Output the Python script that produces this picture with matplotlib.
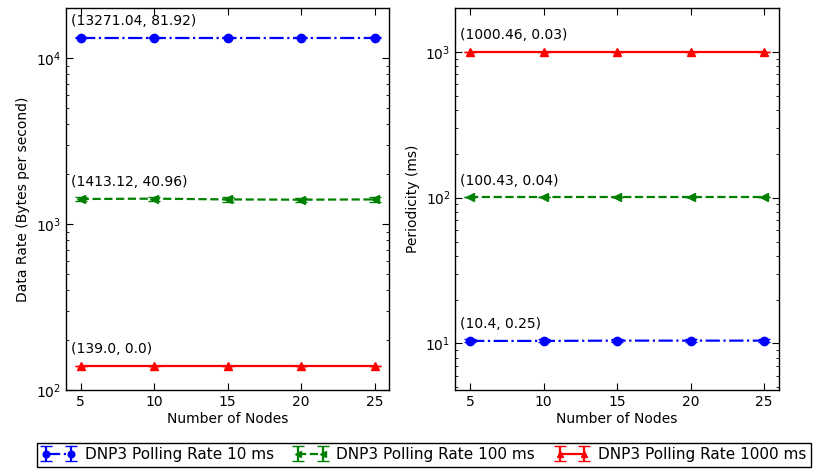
import matplotlib
matplotlib.use("Agg")
import matplotlib.pyplot as plt

plt.rcParams.update({
    "font.family": "DejaVu Sans",
    "font.size": 10,
    "xtick.direction": "in",
    "ytick.direction": "in",
    "xtick.top": True,
    "ytick.right": True,
    "xtick.major.size": 5,
    "ytick.major.size": 5,
    "ytick.minor.size": 2.5,
    "axes.linewidth": 1.0,
})

nodes = [5, 10, 15, 20, 25]
labels = ["DNP3 Polling Rate 10 ms", "DNP3 Polling Rate 100 ms",
          "DNP3 Polling Rate 1000 ms"]

# data rate (bytes per second): mean and std per node count
rate_10 = [13271.04, 13271.04, 13271.04, 13271.04, 13271.04]
rate_10_std = [81.92, 81.92, 81.92, 81.92, 81.92]
rate_100 = [1413.12, 1420.0, 1405.0, 1400.0, 1405.0]
rate_100_std = [40.96, 40.96, 40.96, 40.96, 40.96]
rate_1000 = [139.0, 139.0, 139.0, 139.0, 139.0]
rate_1000_std = [0.0, 0.0, 0.0, 0.0, 0.0]

# periodicity (ms)
per_10 = [10.4, 10.4, 10.45, 10.45, 10.45]
per_10_std = [0.25, 0.25, 0.25, 0.25, 0.25]
per_100 = [100.43, 100.43, 100.43, 100.43, 100.43]
per_100_std = [0.04, 0.04, 0.04, 0.04, 0.04]
per_1000 = [1000.46, 1000.46, 1000.46, 1000.46, 1000.46]
per_1000_std = [0.03, 0.03, 0.03, 0.03, 0.03]

styles = [
    dict(color="blue", fmt="o-.", ms=6),
    dict(color="green", fmt="<--", ms=6),
    dict(color="red", fmt="^-", ms=6),
]

fig = plt.figure(figsize=(8.25, 4.72), dpi=100)
ax1 = fig.add_axes([0.080, 0.174, 0.392, 0.809])
ax2 = fig.add_axes([0.552, 0.174, 0.392, 0.809])


def draw(ax, series, note_text):
    handles = []
    for (vals, std), st, lab, note in zip(series, styles, labels, note_text):
        h = ax.errorbar(nodes, vals, yerr=std, fmt=st["fmt"], color=st["color"],
                        ms=st["ms"], lw=1.6, capsize=4, elinewidth=1.6,
                        mec=st["color"], label=lab)
        handles.append(h)
        ax.annotate(note, (nodes[0], vals[0]), xytext=(-7, 7),
                    textcoords="offset points", ha="left", va="bottom",
                    fontsize=10)
    ax.set_yscale("log")
    ax.set_xlim(4, 26)
    ax.set_xticks(nodes)
    ax.set_xlabel("Number of Nodes", labelpad=2)
    return handles


h = draw(ax1, [(rate_10, rate_10_std), (rate_100, rate_100_std),
               (rate_1000, rate_1000_std)],
         ["(13271.04, 81.92)", "(1413.12, 40.96)", "(139.0, 0.0)"])
ax1.set_ylim(100, 20000)
ax1.set_ylabel("Data Rate (Bytes per second)")

draw(ax2, [(per_10, per_10_std), (per_100, per_100_std),
           (per_1000, per_1000_std)],
     ["(10.4, 0.25)", "(100.43, 0.04)", "(1000.46, 0.03)"])
ax2.set_ylim(4.8, 2000)
ax2.set_ylabel("Periodicity (ms)")

fig.legend(h, labels, loc="lower center", ncol=3, bbox_to_anchor=(0.514, -0.005),
           numpoints=2, fancybox=False, edgecolor="black", fontsize=11,
           handlelength=2.2, columnspacing=1.3, handletextpad=0.6,
           borderpad=0.3, framealpha=1, markerscale=0.8)

fig.savefig("out.png", dpi=100)
